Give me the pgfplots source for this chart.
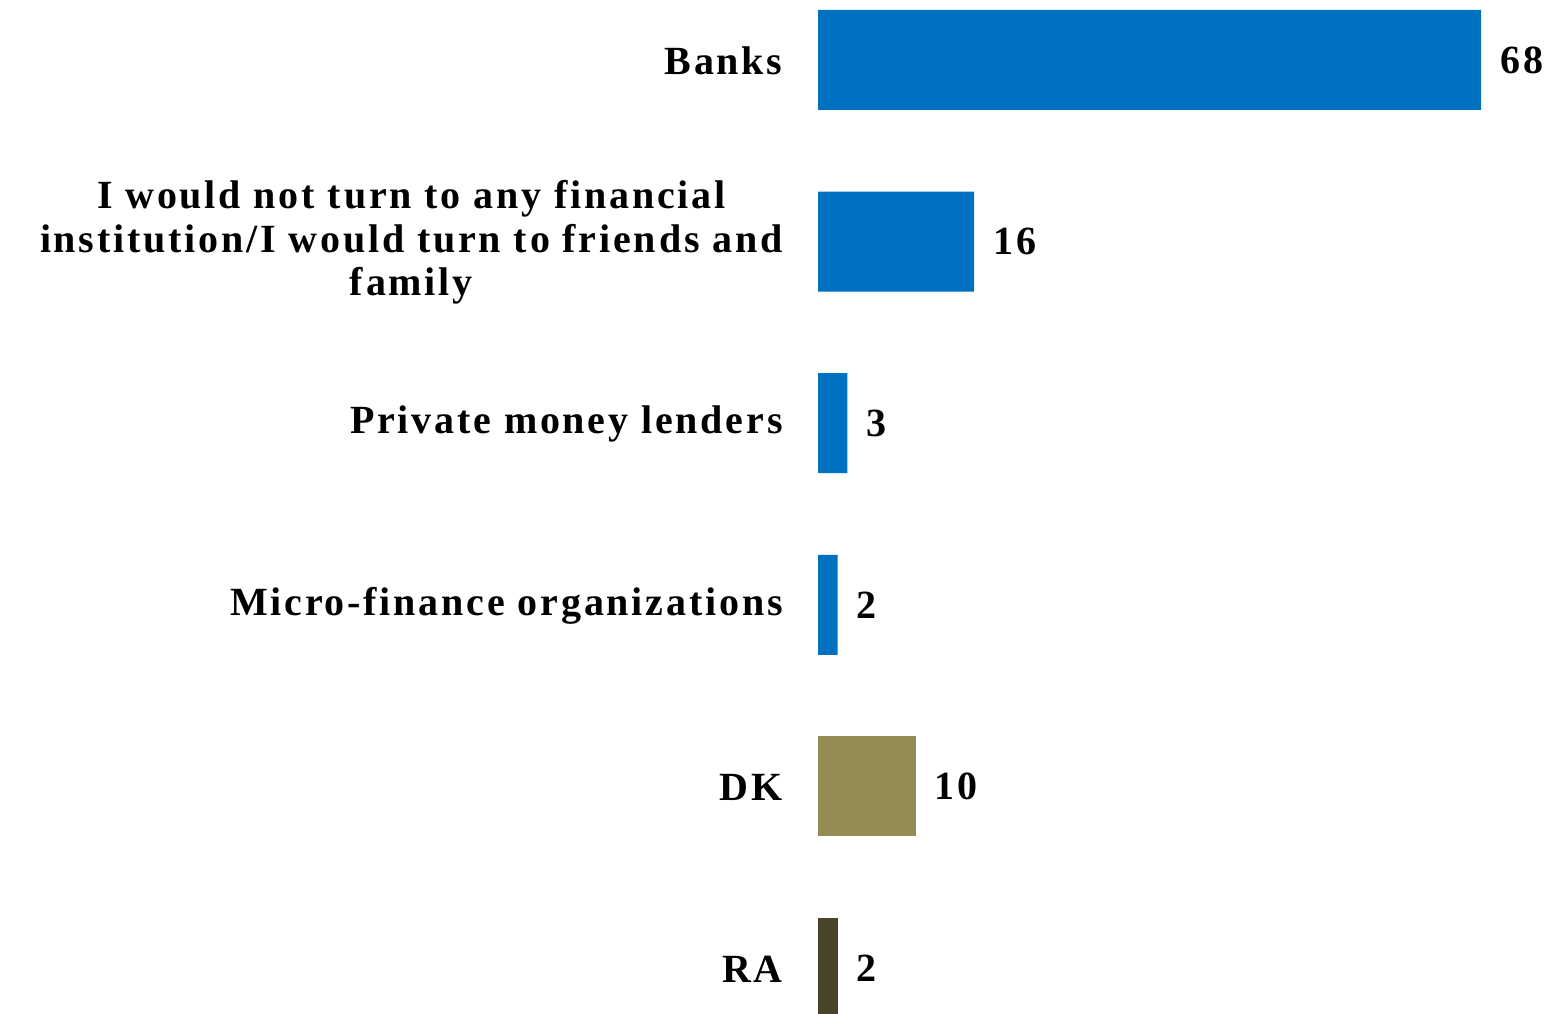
\documentclass[border=0pt]{standalone}
\usepackage{pgfplots}
\pgfplotsset{compat=1.18}
\usepackage{fontspec}
\setmainfont[LetterSpace=7]{Liberation Serif}
\definecolor{cblue}{HTML}{0070C0}
\definecolor{colive}{HTML}{948A54}
\definecolor{cdark}{HTML}{4A452A}
\begin{document}
\begin{tikzpicture}
\useasboundingbox (0,0) rectangle (775pt,506.5pt);
\begin{axis}[
  at={(409pt,0pt)}, anchor=south west,
  scale only axis, width=366pt, height=506.5pt,
  xmin=0, xmax=75.08,
  ymin=-0.33, ymax=5.248, y dir=reverse,
  axis line style={draw=none},
  xtick=\empty,
  ytick={0,1,2,3,4,5},
  yticklabels={Banks,{I would not turn to any financial\\institution/I would turn to friends and\\family},Private money lenders,Micro-finance organizations,DK,RA},
  major tick length=0pt,
  yticklabel style={font=\fontsize{20}{21.75}\selectfont\bfseries, align=center, inner sep=0pt, xshift=-17.5pt, yshift=-0.5pt},
  xbar, bar width=50pt, bar shift=0pt,
  nodes near coords,
  /pgf/number format/assume math mode=true,
  every node near coord/.append style={font=\fontsize{20}{24}\selectfont\bfseries, anchor=west, inner sep=0pt, xshift=9.5pt, text=black},
]
\addplot[fill=cblue, draw=none] coordinates {(68,0) (16,1) (3,2) (2,3)};
\addplot[fill=colive, draw=none] coordinates {(10,4)};
\addplot[fill=cdark, draw=none] coordinates {(2,5)};
\end{axis}
\end{tikzpicture}
\end{document}
